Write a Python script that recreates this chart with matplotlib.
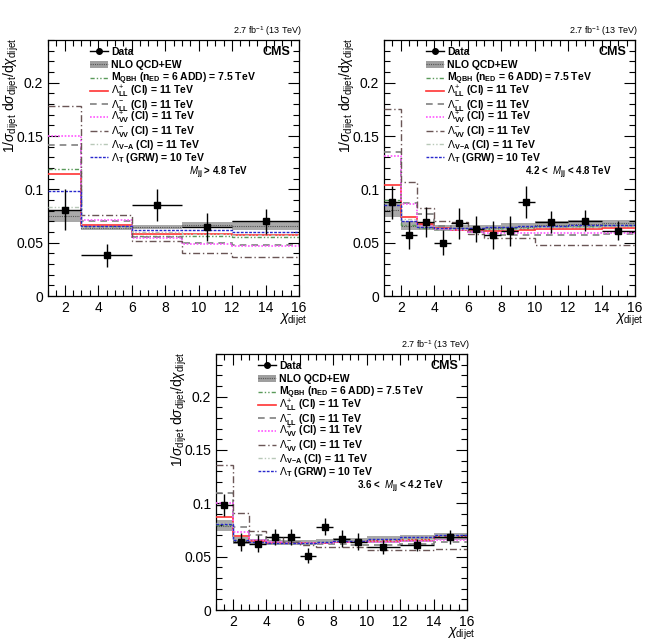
import matplotlib
matplotlib.use("Agg")
import matplotlib.pyplot as plt
import numpy as np
from matplotlib.lines import Line2D
from matplotlib.patches import Rectangle
from matplotlib.ticker import MultipleLocator

plt.rcParams['font.family'] = ['Liberation Sans', 'DejaVu Sans']
plt.rcParams['mathtext.fontset'] = 'custom'
plt.rcParams['mathtext.rm'] = 'Liberation Sans'
plt.rcParams['mathtext.it'] = 'Liberation Sans:italic'
plt.rcParams['mathtext.bf'] = 'Liberation Sans:bold'

# ---------------- data ----------------
edges_hi = [1, 3, 6, 9, 12, 16]
edges_fine = [1, 2, 3, 4, 5, 6, 7, 8, 9, 10, 12, 14, 16]

# M_jj > 4.8 TeV
hi_data = [0.081, 0.038, 0.085, 0.0645, 0.070]
hi_err = [0.019, 0.011, 0.015, 0.013, 0.012]
hi_qcd = [0.075, 0.064, 0.0645, 0.0665, 0.066]
hi_unc = [0.006, 0.002, 0.002, 0.0025, 0.004]
hi_qbh = [0.119, 0.066, 0.0566, 0.056, 0.055]
hi_llp = [0.114, 0.0665, 0.058, 0.058, 0.0573]
hi_llm = [0.142, 0.070, 0.055, 0.050, 0.048]
hi_vvp = [0.150, 0.071, 0.0545, 0.0488, 0.0473]
hi_vvm = [0.178, 0.076, 0.0516, 0.040, 0.0369]
hi_va = [0.083, 0.065, 0.060, 0.058, 0.057]
hi_grw = [0.0986, 0.066, 0.062, 0.062, 0.0604]

# 4.2 < M_jj < 4.8 TeV
mid_data = [0.088, 0.057, 0.069, 0.050, 0.068, 0.063, 0.057, 0.061, 0.088, 0.0695, 0.0707, 0.0613]
mid_err = [0.0155, 0.013, 0.014, 0.0115, 0.0145, 0.012, 0.013, 0.014, 0.015, 0.010, 0.010, 0.009]
mid_qcd = [0.081, 0.066, 0.065, 0.064, 0.064, 0.064, 0.064, 0.065, 0.065, 0.067, 0.0675, 0.068]
mid_unc = [0.0065, 0.004, 0.0035, 0.003, 0.003, 0.003, 0.003, 0.003, 0.003, 0.0035, 0.0035, 0.0035]
mid_qbh = [0.090, 0.067, 0.064, 0.063, 0.063, 0.063, 0.063, 0.064, 0.064, 0.066, 0.066, 0.067]
mid_llp = [0.104, 0.0745, 0.0676, 0.064, 0.062, 0.061, 0.061, 0.061, 0.062, 0.0625, 0.063, 0.064]
mid_llm = [0.135, 0.0876, 0.0767, 0.066, 0.063, 0.060, 0.058, 0.057, 0.057, 0.057, 0.057, 0.058]
mid_vvp = [0.1315, 0.0864, 0.066, 0.063, 0.062, 0.060, 0.059, 0.059, 0.059, 0.059, 0.0595, 0.0595]
mid_vvm = [0.175, 0.107, 0.0823, 0.070, 0.069, 0.058, 0.054, 0.054, 0.054, 0.048, 0.048, 0.048]
mid_va = [0.087, 0.072, 0.066, 0.064, 0.063, 0.063, 0.063, 0.063, 0.064, 0.065, 0.065, 0.066]
mid_grw = [0.0855, 0.070, 0.065, 0.064, 0.064, 0.064, 0.065, 0.065, 0.066, 0.066, 0.067, 0.067]

# 3.6 < M_jj < 4.2 TeV
lo_data = [0.0985, 0.064, 0.062, 0.068, 0.068, 0.051, 0.078, 0.0666, 0.064, 0.0594, 0.061, 0.0688]
lo_err = [0.010, 0.0085, 0.008, 0.0075, 0.0075, 0.0068, 0.008, 0.008, 0.008, 0.0065, 0.006, 0.0065]
lo_qcd = [0.079, 0.065, 0.064, 0.063, 0.063, 0.063, 0.064, 0.065, 0.065, 0.066, 0.067, 0.069]
lo_unc = [0.005, 0.003, 0.0025, 0.0025, 0.0025, 0.0025, 0.0025, 0.0025, 0.0025, 0.003, 0.003, 0.003]
lo_qbh = [0.080, 0.066, 0.064, 0.063, 0.063, 0.063, 0.064, 0.065, 0.065, 0.066, 0.067, 0.069]
lo_llp = [0.0875, 0.069, 0.065, 0.063, 0.063, 0.063, 0.063, 0.064, 0.064, 0.065, 0.066, 0.068]
lo_llm = [0.1095, 0.0776, 0.070, 0.066, 0.064, 0.063, 0.062, 0.062, 0.061, 0.061, 0.062, 0.064]
lo_vvp = [0.100, 0.073, 0.066, 0.064, 0.063, 0.063, 0.063, 0.064, 0.064, 0.064, 0.065, 0.066]
lo_vvm = [0.136, 0.0907, 0.074, 0.068, 0.064, 0.061, 0.059, 0.059, 0.059, 0.056, 0.056, 0.057]
lo_va = [0.082, 0.067, 0.064, 0.063, 0.063, 0.063, 0.064, 0.065, 0.065, 0.066, 0.067, 0.069]
lo_grw = [0.081, 0.066, 0.064, 0.063, 0.063, 0.063, 0.064, 0.065, 0.065, 0.067, 0.068, 0.070]

mass_labels = [r"$\mathit{M}_{\mathbf{jj}}$ > 4.8 TeV",
               r"4.2 <  $\mathit{M}_{\mathbf{jj}}$ < 4.8 TeV",
               r"3.6 <  $\mathit{M}_{\mathbf{jj}}$ < 4.2 TeV"]

legend_labels = ["Data", "NLO QCD+EW",
                 r"M$_{\mathbf{QBH}}$ (n$_{\mathbf{ED}}$ = 6 ADD) = 7.5 TeV",
                 r"$\Lambda^{+}_{\mathbf{LL}}$ (CI) = 11 TeV",
                 r"$\Lambda^{-}_{\mathbf{LL}}$ (CI) = 11 TeV",
                 r"$\Lambda^{+}_{\mathbf{VV}}$ (CI) = 11 TeV",
                 r"$\Lambda^{-}_{\mathbf{VV}}$ (CI) = 11 TeV",
                 r"$\Lambda_{\mathbf{V\!-\!A}}$ (CI) = 11 TeV",
                 r"$\Lambda_{\mathbf{T}}$ (GRW) = 10 TeV"]

# styles (not data)
model_styles = [
    dict(color='#5a9a5a', ls=(0, (3, 1.5, 1, 1.5, 1, 1.5)), lw=1.0),
    dict(color='#ff3333', ls='-', lw=1.2),
    dict(color='#808080', ls=(0, (4, 3)), lw=1.2),
    dict(color='#ff55ff', ls=(0, (1, 1)), lw=1.2),
    dict(color='#6a5555', ls=(0, (5, 2, 1, 2)), lw=1.0),
    dict(color='#b8c8b8', ls=(0, (3, 1.5, 1, 1.5, 1, 1.5)), lw=1.0),
    dict(color='#2828cc', ls=(0, (2, 1)), lw=1.0),
]

panels = [
    dict(edges=edges_hi, data=hi_data, err=hi_err, qcd=hi_qcd, unc=hi_unc,
         models=[hi_qbh, hi_llp, hi_llm, hi_vvp, hi_vvm, hi_va, hi_grw], label=mass_labels[0]),
    dict(edges=edges_fine, data=mid_data, err=mid_err, qcd=mid_qcd, unc=mid_unc,
         models=[mid_qbh, mid_llp, mid_llm, mid_vvp, mid_vvm, mid_va, mid_grw], label=mass_labels[1]),
    dict(edges=edges_fine, data=lo_data, err=lo_err, qcd=lo_qcd, unc=lo_unc,
         models=[lo_qbh, lo_llp, lo_llm, lo_vvp, lo_vvm, lo_va, lo_grw], label=mass_labels[2]),
]

fig = plt.figure(figsize=(6.45, 6.41), dpi=100)
W, H = 645.0, 641.0
rects = [(48, 40, 299, 296), (384, 40, 635, 296), (216, 354, 467, 610)]
band_color = '#9a9a9a'

for p, (l, t, r, b) in zip(panels, rects):
    ax = fig.add_axes([l / W, 1 - b / H, (r - l) / W, (b - t) / H])
    e = np.array(p['edges'], dtype=float)
    q = np.array(p['qcd'])
    u = np.array(p['unc'])
    ax.stairs(q + u, e, baseline=q - u, fill=True, color=band_color, alpha=0.85, zorder=1)
    ax.stairs(q, e, baseline=None, color='#555555', ls=(0, (1, 1)), lw=0.8, zorder=2)
    for vals, st in zip(p['models'], model_styles):
        ax.stairs(vals, e, baseline=None, color=st['color'], linestyle=st['ls'],
                  lw=st['lw'], zorder=3)
    centers = 0.5 * (e[:-1] + e[1:])
    xerr = 0.5 * (e[1:] - e[:-1])
    ax.errorbar(centers, p['data'], yerr=p['err'], xerr=xerr, fmt='s', color='black',
                ms=5, lw=1.0, capsize=0, zorder=5)
    ax.set_xlim(1, 16)
    ax.set_ylim(0, 0.24)
    ax.set_xticks([2, 4, 6, 8, 10, 12, 14, 16])
    ax.set_yticks([0, 0.05, 0.1, 0.15, 0.2])
    ax.set_yticklabels(['0', '0.05', '0.1', '0.15', '0.2'])
    ax.xaxis.set_minor_locator(MultipleLocator(0.5))
    ax.yaxis.set_minor_locator(MultipleLocator(0.01))
    ax.tick_params(which='both', direction='in', top=True, right=True, labelsize=10, width=0.8)
    ax.tick_params(which='major', length=8)
    ax.tick_params(which='minor', length=4)
    for sp in ax.spines.values():
        sp.set_linewidth(0.9)

    ax.text(0.964, 0.953, "CMS", transform=ax.transAxes, ha='right', va='center',
            fontsize=9, fontweight='bold')
    ax.text(1.01, 1.035, r"2.7 fb$^{-1}$ (13 TeV)", transform=ax.transAxes, ha='right',
            va='center', fontsize=6.5)
    ax.text(0.56, 0.48, p['label'], transform=ax.transAxes, ha='left', va='center',
            fontsize=7, fontweight='bold')
    ax.text(-0.145, 1.01, r"1/$\sigma_{\rm dijet}$ d$\sigma_{\rm dijet}$/d$\chi_{\rm dijet}$",
            transform=ax.transAxes, rotation=90, ha='center', va='top', fontsize=10)
    ax.text(1.035, -0.06, r"$\chi_{\rm dijet}$", transform=ax.transAxes, ha='right',
            va='top', fontsize=10)

    # manual legend with fixed row spacing
    y0 = 0.957
    dy = 0.0518
    hx0, hx1, tx = 0.167, 0.239, 0.251
    tr = ax.transAxes
    for i, lab in enumerate(legend_labels):
        yy = y0 - i * dy
        if i == 0:
            ax.add_line(Line2D([hx0, hx1], [yy, yy], color='black', lw=1.0, transform=tr))
            ax.add_line(Line2D([(hx0 + hx1) / 2], [yy], color='black', marker='o', ms=4,
                               transform=tr))
        elif i == 1:
            ax.add_patch(Rectangle((hx0, yy - 0.014), hx1 - hx0, 0.028, transform=tr,
                                   facecolor=band_color, edgecolor='none', alpha=0.95))
            ax.add_line(Line2D([hx0, hx1], [yy, yy], color='#555555', lw=0.8,
                               ls=(0, (1, 1)), transform=tr))
        else:
            st = model_styles[i - 2]
            ax.add_line(Line2D([hx0, hx1], [yy, yy], color=st['color'], ls=st['ls'],
                               lw=st['lw'], transform=tr))
        ax.text(tx, yy - 0.0145, lab, transform=tr, ha='left', va='baseline', fontsize=7.5,
                fontweight='bold')

fig.savefig("out.png", dpi=100)
